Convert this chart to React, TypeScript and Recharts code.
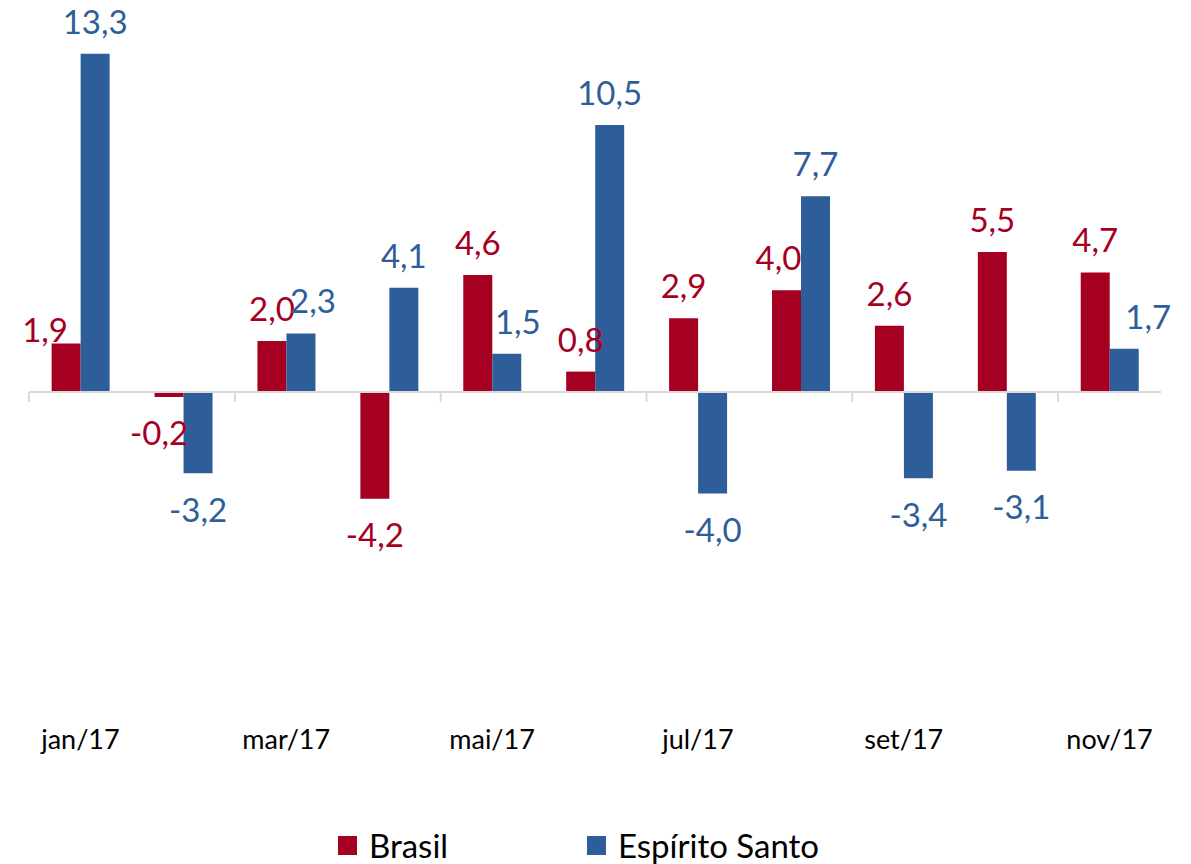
// Variação mensal: Brasil x Espírito Santo (jan/17 - nov/17)

import { BarChart, Bar, XAxis, YAxis, ReferenceLine, LabelList } from "recharts";

const months = [
  "jan/17", "fev/17", "mar/17", "abr/17", "mai/17", "jun/17",
  "jul/17", "ago/17", "set/17", "out/17", "nov/17",
];
const brasil = [1.9, -0.2, 2.0, -4.2, 4.6, 0.8, 2.9, 4.0, 2.6, 5.5, 4.7];
const espiritoSanto = [13.3, -3.2, 2.3, 4.1, 1.5, 10.5, -4.0, 7.7, -3.4, -3.1, 1.7];

const RED = "#a50021";
const BLUE = "#2e5e99";
const FONT = "Lato, 'Open Sans', sans-serif";

// manual label nudges, as in the original chart (index -> [dx, dy])
const brasilNudge: Record<number, [number, number]> = { 0: [-21, 18], 1: [-10, 0], 7: [-8, 0] };
const esNudge: Record<number, [number, number]> = { 2: [12, 0], 4: [11, 0], 10: [24, 0] };

const data = months.map((m, i) => ({
  month: m,
  brasil: brasil[i],
  es: espiritoSanto[i],
}));

const fmt = (v: number) => v.toFixed(1).replace(".", ",");

function makeLabel(color: string, nudge: Record<number, [number, number]>) {
  return function ValueLabel(props: any) {
    const { x, y, width, height, value, index } = props;
    const top = Math.min(y, y + height);
    const bottom = Math.max(y, y + height);
    const [dx, dy] = nudge[index] || [0, 0];
    const neg = value < 0;
    return (
      <text
        x={x + width / 2 + dx}
        y={(neg ? bottom + 22 : top - 20) + dy}
        dominantBaseline={neg ? "hanging" : "auto"}
        textAnchor="middle"
        fill={color}
        fontSize={33}
        fontFamily={FONT}
      >
        {fmt(value)}
      </text>
    );
  };
}

// zero line with tick marks every two categories
function ZeroLine(props: any) {
  const { x1, y1, x2 } = props;
  const step = (x2 - x1) / months.length;
  const ticks = [];
  for (let i = 0; i < months.length; i += 2) {
    const tx = x1 + i * step;
    ticks.push(<line key={i} x1={tx} y1={y1} x2={tx} y2={y1 + 10} stroke="#d9d9d9" strokeWidth={2} />);
  }
  return (
    <g>
      <line x1={x1} y1={y1} x2={x2} y2={y1} stroke="#d9d9d9" strokeWidth={2} />
      {ticks}
    </g>
  );
}

function LegendBox() {
  const items = [
    { name: "Brasil", color: RED, left: 338 },
    { name: "Espírito Santo", color: BLUE, left: 587 },
  ];
  return (
    <>
      {items.map((it) => (
        <div
          key={it.name}
          style={{
            position: "absolute",
            left: it.left,
            top: 824,
            height: 42,
            display: "flex",
            alignItems: "center",
            fontFamily: FONT,
            fontSize: 33,
            color: "#000",
          }}
        >
          <span style={{ width: 19, height: 19, background: it.color, display: "inline-block", marginRight: 12 }} />
          {it.name}
        </div>
      ))}
    </>
  );
}

export default function App() {
  return (
    <div style={{ position: "absolute", left: 0, top: 0, width: 1191, height: 864, background: "#fff" }}>
      <BarChart
        width={1191}
        height={864}
        data={data}
        margin={{ top: 36, right: 30, left: 29, bottom: 107 }}
        barGap={0}
        barCategoryGap="22%"
      >
        <YAxis hide domain={[-12, 14]} type="number" allowDataOverflow />
        <XAxis
          dataKey="month"
          interval={1}
          axisLine={false}
          tickLine={false}
          tickSize={0}
          tickMargin={33}
          height={60}
          tick={{ fill: "#000", fontSize: 27, fontFamily: FONT }}
        />
        <ReferenceLine y={0} shape={ZeroLine} />
        <Bar dataKey="brasil" name="Brasil" fill={RED} isAnimationActive={false}>
          <LabelList dataKey="brasil" content={makeLabel(RED, brasilNudge)} />
        </Bar>
        <Bar dataKey="es" name="Espírito Santo" fill={BLUE} isAnimationActive={false}>
          <LabelList dataKey="es" content={makeLabel(BLUE, esNudge)} />
        </Bar>
      </BarChart>
      <LegendBox />
    </div>
  );
}
